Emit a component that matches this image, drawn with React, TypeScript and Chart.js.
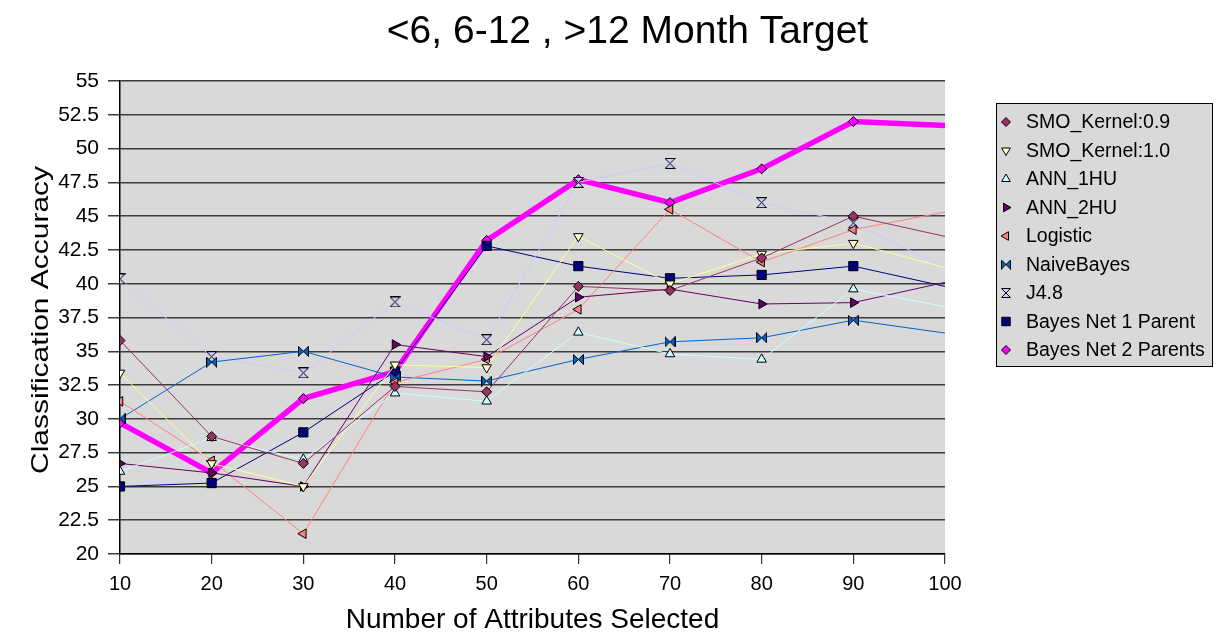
import React, { useEffect, useRef } from 'react';
import { Chart, registerables } from 'chart.js';
import { drawPoint } from 'chart.js/helpers';

Chart.register(...registerables);

const FONT = '"Liberation Sans", Arial, Helvetica, sans-serif';

const chartTitle = '<6, 6-12 , >12 Month Target';
const xAxisTitle = 'Number of Attributes Selected';
const yAxisTitle = 'Classification Accuracy';

const attributeCounts = [10, 20, 30, 40, 50, 60, 70, 80, 90, 100];

const seriesNames = [
  'SMO_Kernel:0.9',
  'SMO_Kernel:1.0',
  'ANN_1HU',
  'ANN_2HU',
  'Logistic',
  'NaiveBayes',
  'J4.8',
  'Bayes Net 1 Parent',
  'Bayes Net 2 Parents',
];

const smoKernel09 = [35.8, 28.7, 26.7, 32.4, 32.0, 39.8, 39.5, 41.9, 45.0, 43.5];
const smoKernel10 = [33.4, 26.7, 25.0, 34.0, 33.8, 43.5, 40.0, 42.2, 43.0, 41.2];
const ann1hu = [26.1, 28.6, 27.0, 31.9, 31.3, 36.4, 34.8, 34.4, 39.6, 38.3];
const ann2hu = [26.7, 26.0, 25.0, 35.5, 34.6, 39.0, 39.6, 38.5, 38.6, 40.1];
const logistic = [31.3, 26.9, 21.5, 32.7, 34.4, 38.1, 45.5, 41.6, 44.0, 45.3];
const naiveBayes = [30.0, 34.2, 35.0, 33.1, 32.8, 34.4, 35.7, 36.0, 37.3, 36.35];
const j48 = [40.35, 34.6, 33.4, 38.65, 35.85, 47.5, 48.9, 46.0, 44.5, 41.2];
const bayesNet1 = [25.0, 25.25, 29.0, 33.5, 42.8, 41.3, 40.4, 40.65, 41.3, 39.8];
const bayesNet2 = [29.7, 26.0, 31.5, 33.5, 43.2, 47.7, 46.0, 48.5, 52.0, 51.7];

const seriesValues = [smoKernel09, smoKernel10, ann1hu, ann2hu, logistic, naiveBayes, j48, bayesNet1, bayesNet2];

type Style = { line: string; fill: string; marker: string; rot: number; r: number; lr: number; width: number };
const seriesStyles: Style[] = [
  { line: '#993366', fill: '#993366', marker: 'rectRot', rot: 0, r: 5, lr: 4.5, width: 1 },
  { line: '#FFFF99', fill: '#FFFFCC', marker: 'triangle', rot: 180, r: 5.5, lr: 5, width: 1 },
  { line: '#CCFFFF', fill: '#CCFFFF', marker: 'triangle', rot: 0, r: 5.5, lr: 5, width: 1 },
  { line: '#660066', fill: '#660066', marker: 'triangle', rot: 90, r: 5.5, lr: 5, width: 1 },
  { line: '#FF8080', fill: '#FF8080', marker: 'triangle', rot: -90, r: 5.5, lr: 5, width: 1 },
  { line: '#0066CC', fill: '#0066CC', marker: 'bowtie', rot: 0, r: 5, lr: 4.5, width: 1 },
  { line: '#CCCCFF', fill: '#CCCCFF', marker: 'hourglass', rot: 0, r: 5, lr: 4.5, width: 1 },
  { line: '#000080', fill: '#000080', marker: 'rect', rot: 0, r: 6.5, lr: 6, width: 1 },
  { line: '#FF00FF', fill: '#FF00FF', marker: 'rectRot', rot: 0, r: 5, lr: 4.5, width: 5.5 },
];

function makeBowtie(fill: string, size: number, vertical: boolean): HTMLCanvasElement {
  const c = document.createElement('canvas');
  c.width = size;
  c.height = size;
  const ctx = c.getContext('2d')!;
  const p = 0.5;
  const s = size - 0.5;
  const m = size / 2;
  ctx.beginPath();
  if (!vertical) {
    ctx.moveTo(p, p); ctx.lineTo(m, m); ctx.lineTo(p, s); ctx.closePath();
    ctx.moveTo(s, p); ctx.lineTo(m, m); ctx.lineTo(s, s); ctx.closePath();
  } else {
    ctx.moveTo(p, p); ctx.lineTo(s, p); ctx.lineTo(m, m); ctx.closePath();
    ctx.moveTo(p, s); ctx.lineTo(s, s); ctx.lineTo(m, m); ctx.closePath();
  }
  ctx.fillStyle = fill;
  ctx.fill();
  ctx.strokeStyle = '#000';
  ctx.lineWidth = 1;
  ctx.stroke();
  return c;
}

export default function App() {
  const ref = useRef<HTMLCanvasElement | null>(null);

  useEffect(() => {
    document.body.style.margin = '0';
    const canvas = ref.current!;

    const pointStyleFor = (st: Style, legend: boolean): any => {
      if (st.marker === 'bowtie') return makeBowtie(st.fill, legend ? 10 : 11, false);
      if (st.marker === 'hourglass') return makeBowtie(st.fill, legend ? 10 : 11, true);
      return st.marker;
    };

    const datasets = seriesNames.map((name, i) => {
      const st = seriesStyles[i];
      const vals = seriesValues[i];
      return {
        label: name,
        data: attributeCounts.map((x, k) => ({ x, y: vals[k] })),
        borderColor: st.line,
        borderWidth: st.width,
        backgroundColor: st.fill,
        pointStyle: pointStyleFor(st, false),
        pointRotation: st.rot,
        pointRadius: attributeCounts.map((_, k) => (k === attributeCounts.length - 1 ? 0 : st.r)),
        pointBackgroundColor: st.fill,
        pointBorderColor: '#000',
        pointBorderWidth: 1,
        tension: 0,
        fill: false,
      };
    });

    const legendStyles = seriesStyles.map((st) => pointStyleFor(st, true));

    const decor = {
      id: 'decor',
      beforeDraw(chart: any) {
        const { ctx, chartArea } = chart;
        ctx.save();
        ctx.fillStyle = '#FFFFFF';
        ctx.fillRect(0, 0, chart.width, chart.height);
        ctx.fillStyle = '#D9D9D9';
        ctx.fillRect(chartArea.left, chartArea.top, chartArea.right - chartArea.left, chartArea.bottom - chartArea.top);
        ctx.restore();
      },
      afterDraw(chart: any) {
        const { ctx, chartArea } = chart;
        ctx.save();
        ctx.fillStyle = '#000';
        // title
        ctx.font = `39px ${FONT}`;
        ctx.textAlign = 'center';
        ctx.textBaseline = 'alphabetic';
        ctx.fillText(chartTitle, 627.5, 43);
        // x axis title
        ctx.font = `28px ${FONT}`;
        ctx.fillText(xAxisTitle, (chartArea.left + chartArea.right) / 2, 628);
        // y axis title
        ctx.font = `24px ${FONT}`;
        const w = ctx.measureText(yAxisTitle).width;
        ctx.translate(48, 320);
        ctx.rotate(-Math.PI / 2);
        ctx.scale(308 / w, 1);
        ctx.fillText(yAxisTitle, 0, 0);
        ctx.restore();

        // legend
        ctx.save();
        const bx = 996.5, by = 103.5, bw = 216, bh = 263;
        ctx.fillStyle = '#D9D9D9';
        ctx.fillRect(bx, by, bw, bh);
        ctx.strokeStyle = '#000';
        ctx.lineWidth = 1;
        ctx.strokeRect(bx, by, bw, bh);
        ctx.font = `19.5px ${FONT}`;
        ctx.textAlign = 'left';
        ctx.textBaseline = 'middle';
        seriesNames.forEach((name, i) => {
          const st = seriesStyles[i];
          const y = 122 + i * 28.5;
          ctx.fillStyle = st.fill;
          ctx.strokeStyle = '#000';
          ctx.lineWidth = 1;
          drawPoint(ctx, { pointStyle: legendStyles[i], rotation: st.rot, radius: st.lr, borderWidth: 1 } as any, 1006, y);
          ctx.fillStyle = '#000';
          ctx.fillText(name, 1026, y + 1);
        });
        ctx.restore();
      },
    };

    const chart = new Chart(canvas, {
      type: 'line',
      data: { datasets: datasets as any },
      options: {
        animation: false,
        responsive: false,
        maintainAspectRatio: false,
        layout: { padding: { left: 0, right: 272, top: 81, bottom: 0 } },
        plugins: {
          legend: { display: false },
          title: { display: false },
          tooltip: { enabled: false },
        },
        scales: {
          x: {
            type: 'linear',
            min: 10,
            max: 100,
            ticks: {
              stepSize: 10,
              color: '#000',
              font: { family: FONT, size: 20 },
              padding: 8,
              maxRotation: 0,
            },
            grid: {
              drawOnChartArea: false,
              drawTicks: true,
              tickLength: 10,
              color: '#333',
              lineWidth: 1.2,
            },
            border: { color: '#000', width: 1.5 },
            afterFit(scale: any) {
              scale.height = 81;
              scale.paddingLeft = 0;
              scale.paddingRight = 0;
            },
          },
          y: {
            type: 'linear',
            min: 20,
            max: 55,
            ticks: {
              stepSize: 2.5,
              color: '#000',
              font: { family: FONT, size: 21 },
              padding: 9,
            },
            grid: {
              color: '#3c3c3c',
              lineWidth: 1.5,
              tickLength: 12,
              drawTicks: true,
            },
            border: { color: '#000', width: 1.5 },
            afterFit(scale: any) {
              scale.width = 120;
              scale.paddingTop = 0;
              scale.paddingBottom = 0;
            },
          },
        },
      },
      plugins: [decor],
    });

    return () => chart.destroy();
  }, []);

  return (
    <div style={{ width: 1217, height: 635 }}>
      <canvas ref={ref} width={1217} height={635} style={{ display: 'block' }} />
    </div>
  );
}
